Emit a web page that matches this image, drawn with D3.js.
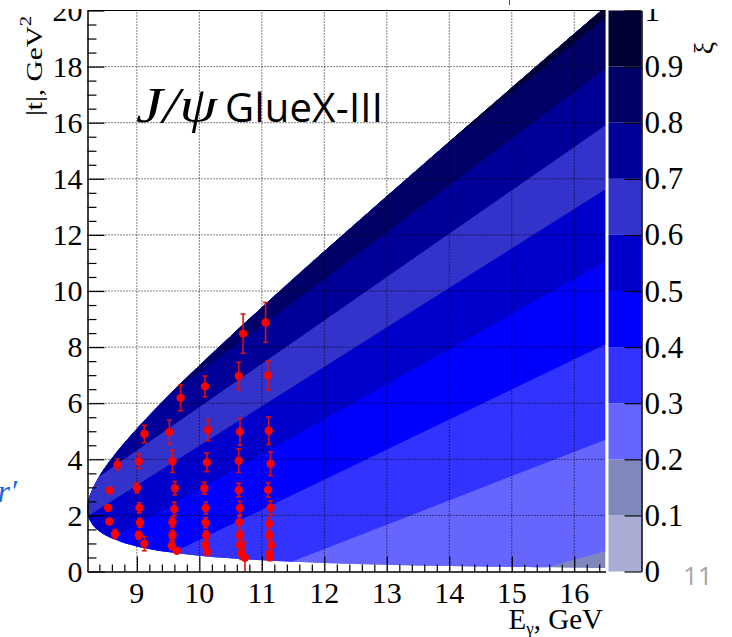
<!DOCTYPE html>
<html>
<head>
<meta charset="utf-8">
<script src="https://cdn.jsdelivr.net/npm/d3@7"></script>
<style>
  html, body { margin: 0; padding: 0; background: #fff; }
  svg { display: block; }
  .lbl { font-family: 'Liberation Serif', 'Times New Roman', serif; fill: #000; }
</style>
</head>
<body>
<svg id="chart" width="732" height="637"></svg>
<script>
// Kinematic limits of J/psi photoproduction: photon energy and |t| range at that energy
const edgeE    = [8.2078, 8.22, 8.25, 8.3, 8.4, 8.5, 8.75, 9, 9.5, 10, 10.5, 11, 12, 13, 14, 15, 16, 16.5];
const edgeTmin = [2.232, 1.976, 1.815, 1.643, 1.431, 1.288, 1.051, 0.895, 0.692, 0.561, 0.469, 0.400, 0.303, 0.239, 0.195, 0.162, 0.137, 0.126];
const edgeTmax = [2.232, 2.513, 2.726, 2.995, 3.400, 3.736, 4.455, 5.091, 6.254, 7.343, 8.391, 9.415, 11.417, 13.381, 15.323, 17.251, 19.169, 20.125];

// Lines of constant xi: |t| at the two ends of the energy range
const xiLevels    = [0.2, 0.3, 0.4, 0.5, 0.6, 0.7, 0.8, 0.9];
const xiLineE     = [8.2, 16.5];
const xiLineStart = [-4.46, -2.49, -0.80, 0.67, 1.95, 3.08, 4.09, 4.99];
const xiLineEnd   = [0.73, 4.70, 8.10, 11.05, 13.63, 15.91, 17.93, 19.74];

// Palette steps (xi) and the colour of each step
const zSteps     = [0, 0.1, 0.2, 0.3, 0.4, 0.5, 0.6, 0.7, 0.8, 0.9, 1.0];
const bandColors = ["#a9add3", "#7f87bd", "#6666ff", "#3333ff", "#0000ff",
                    "#0000cc", "#3333cc", "#000099", "#000066", "#000033"];
const zTickLabels = ["0", "0.1", "0.2", "0.3", "0.4", "0.5", "0.6", "0.7", "0.8", "0.9", "1"];

// GlueX-III projected J/psi points: E_gamma, |t| and the |t| uncertainty
const dataE = [
  8.57, 8.54, 8.56, 8.65, 8.69,
  9.12, 9.03, 9.00, 9.04, 9.05, 9.03, 9.12,
  9.70, 9.52, 9.57, 9.61, 9.60, 9.57, 9.57, 9.56, 9.64,
  10.09, 10.14, 10.12, 10.08, 10.10, 10.10, 10.11, 10.10, 10.13,
  10.70, 10.63, 10.65, 10.63, 10.63, 10.65, 10.64, 10.65, 10.65, 10.68, 10.73,
  11.06, 11.10, 11.11, 11.14, 11.10, 11.14, 11.12, 11.12, 11.15, 11.12, 11.13
];
const dataT = [
  2.89, 2.27, 1.78, 1.34, 3.81,
  4.90, 3.93, 2.98, 2.27, 1.74, 1.29, 0.99,
  6.19, 4.97, 3.93, 2.97, 2.23, 1.76, 1.29, 0.92, 0.74,
  6.60, 5.04, 3.89, 2.97, 2.26, 1.74, 1.29, 0.94, 0.69,
  8.48, 6.97, 4.98, 3.95, 2.90, 2.26, 1.76, 1.29, 0.94, 0.63, 0.49,
  8.88, 6.99, 5.02, 3.84, 2.91, 2.27, 1.70, 1.29, 0.94, 0.63, 0.51
];
const dataErr = [
  0.10, 0.08, 0.07, 0.16, 0.20,
  0.31, 0.26, 0.18, 0.18, 0.16, 0.14, 0.25,
  0.46, 0.43, 0.39, 0.24, 0.24, 0.17, 0.18, 0.15, 0.06,
  0.37, 0.38, 0.33, 0.21, 0.21, 0.18, 0.16, 0.15, 0.08,
  0.70, 0.49, 0.48, 0.42, 0.24, 0.24, 0.21, 0.17, 0.21, 0.20, 0.56,
  0.71, 0.52, 0.49, 0.42, 0.26, 0.25, 0.21, 0.18, 0.18, 0.12, 0.12
];

// Axis ticks
const xMajor = [9, 10, 11, 12, 13, 14, 15, 16];
const yMajor = [0, 2, 4, 6, 8, 10, 12, 14, 16, 18, 20];
const xDomain = [8.21, 16.5];
const yDomain = [0, 20];

const sans = "'Open Sans', 'Liberation Sans', sans-serif";

const svg = d3.select("#chart");
const defs = svg.append("defs");

const x = d3.scaleLinear().domain(xDomain).range([87.5, 605.5]);
const y = d3.scaleLinear().domain(yDomain).range([571.5, 10.5]);
const z = d3.scaleLinear().domain([zSteps[0], zSteps[zSteps.length - 1]]).range([571.5, 10.5]);

// minor ticks derived from the major tick spacing
const xMinor = d3.range(8.4, 16.5001, 0.2).filter(v => Math.abs(v - Math.round(v)) > 1e-6);
const yMinor = d3.range(0.5, 20, 0.5).filter(v => Math.abs(v / 2 - Math.round(v / 2)) > 1e-6);

// everything of the figure lies below its top edge
defs.append("clipPath").attr("id", "figClip")
  .append("rect").attr("x", 0).attr("y", 9).attr("width", 732).attr("height", 628);

defs.append("clipPath").attr("id", "plotClip")
  .append("rect")
  .attr("x", x.range()[0]).attr("y", y.range()[1])
  .attr("width", x.range()[1] - x.range()[0])
  .attr("height", y.range()[0] - y.range()[1]);

// closed outline of the allowed region: upper limit back to threshold, then lower limit
const outline = [];
for (let i = edgeE.length - 1; i >= 1; i--) outline.push([edgeE[i], edgeTmax[i]]);
outline.push([edgeE[0], edgeTmax[0]]);
for (let i = 1; i < edgeE.length; i++) outline.push([edgeE[i], edgeTmin[i]]);

const outlineLine = d3.line()
  .x(d => x(d[0])).y(d => y(d[1]))
  .curve(d3.curveCatmullRom.alpha(0.5));

defs.append("clipPath").attr("id", "regionClip")
  .append("path").attr("d", outlineLine(outline) + "Z");

const fig = svg.append("g").attr("clip-path", "url(#figClip)");
const plotG = fig.append("g").attr("clip-path", "url(#plotClip)");
const region = plotG.append("g").attr("clip-path", "url(#regionClip)");

// lowest step present in the region fills it first
region.append("rect")
  .attr("x", x.range()[0] - 20).attr("y", y.range()[1])
  .attr("width", x.range()[1] - x.range()[0] + 40)
  .attr("height", y.range()[0] - y.range()[1] + 10)
  .attr("fill", bandColors[1]);

// each higher xi step paints everything above its line
const polyLine = d3.line().x(d => x(d[0])).y(d => y(d[1]));
const yOver = yDomain[1] * 1.5;
xiLevels.forEach((lev, i) => {
  const stepIndex = zSteps.findIndex(s => Math.abs(s - lev) < 1e-9);
  const pts = [
    [xiLineE[0], xiLineStart[i]],
    [xiLineE[1], xiLineEnd[i]],
    [xiLineE[1], yOver],
    [xiLineE[0], yOver]
  ];
  region.append("path")
    .attr("d", polyLine(pts) + "Z")
    .attr("fill", bandColors[stepIndex]);
});

// dotted grid
const grid = plotG.append("g")
  .attr("stroke", "#000").attr("stroke-width", 1)
  .attr("stroke-dasharray", "1,2").attr("fill", "none");
xMajor.forEach(v => {
  grid.append("line").attr("x1", x(v)).attr("x2", x(v))
    .attr("y1", y.range()[0]).attr("y2", y.range()[1]);
});
yMajor.filter(v => v > yDomain[0] && v < yDomain[1]).forEach(v => {
  grid.append("line").attr("y1", y(v)).attr("y2", y(v))
    .attr("x1", x.range()[0]).attr("x2", x.range()[1]);
});

// data points with vertical error bars
const pts = dataE.map((e, i) => ({ e, t: dataT[i], err: dataErr[i] }));
const markG = plotG.append("g");
const cap = 2.5;
pts.forEach(p => {
  const g = markG.append("g").attr("stroke", "#dc1010").attr("stroke-width", 1.6);
  g.append("line").attr("x1", x(p.e)).attr("x2", x(p.e))
    .attr("y1", y(p.t - p.err)).attr("y2", y(p.t + p.err));
  g.append("line").attr("x1", x(p.e) - cap).attr("x2", x(p.e) + cap)
    .attr("y1", y(p.t - p.err)).attr("y2", y(p.t - p.err));
  g.append("line").attr("x1", x(p.e) - cap).attr("x2", x(p.e) + cap)
    .attr("y1", y(p.t + p.err)).attr("y2", y(p.t + p.err));
});
markG.selectAll("circle.pt").data(pts).join("circle")
  .attr("class", "pt")
  .attr("cx", d => x(d.e)).attr("cy", d => y(d.t))
  .attr("r", 4.2).attr("fill", "#ff0000");

// frame top
fig.append("line")
  .attr("x1", x.range()[0]).attr("x2", x.range()[1])
  .attr("y1", y.range()[1]).attr("y2", y.range()[1])
  .attr("stroke", "#000").attr("stroke-width", 1.2);

// axis lines and ticks (labels are set separately below)
function styleAxis(g) {
  g.select(".domain").attr("stroke", "#000").attr("stroke-width", 1.5);
  g.selectAll(".tick line").attr("stroke", "#000").attr("stroke-width", 1.2);
  g.selectAll(".tick text").remove();
}

const xAxisG = fig.append("g").attr("transform", `translate(0,${y.range()[0]})`);
xAxisG.call(d3.axisBottom(x).tickValues(xMajor).tickSizeInner(-15).tickSizeOuter(0).tickFormat(""));
xAxisG.append("g").call(d3.axisBottom(x).tickValues(xMinor).tickSizeInner(-7)
  .tickSizeOuter(0).tickFormat(""))
  .call(g => g.select(".domain").remove());
styleAxis(xAxisG);

const yAxisG = fig.append("g").attr("transform", `translate(${x.range()[0]},0)`);
yAxisG.call(d3.axisLeft(y).tickValues(yMajor).tickSizeInner(-17).tickSizeOuter(0).tickFormat(""));
yAxisG.append("g").call(d3.axisLeft(y).tickValues(yMinor).tickSizeInner(-9)
  .tickSizeOuter(0).tickFormat(""))
  .call(g => g.select(".domain").remove());
styleAxis(yAxisG);

// colour bar
const cbLeft = 608.5, cbRight = 641.5;
const cb = fig.append("g");
bandColors.forEach((c, i) => {
  cb.append("rect")
    .attr("x", cbLeft).attr("width", cbRight - cbLeft)
    .attr("y", z(zSteps[i + 1])).attr("height", z(zSteps[i]) - z(zSteps[i + 1]))
    .attr("fill", c);
});
const zAxisG = fig.append("g").attr("transform", `translate(${cbRight},0)`);
zAxisG.call(d3.axisRight(z).tickValues(zSteps).tickSizeInner(-17).tickSizeOuter(0).tickFormat(""));
styleAxis(zAxisG);

// tick labels
fig.append("g").selectAll("text").data(xMajor).join("text")
  .attr("class", "lbl")
  .attr("x", d => x(d)).attr("y", 603)
  .attr("text-anchor", "middle")
  .style("font-size", "30px")
  .text(d => d3.format("d")(d));

fig.append("g").selectAll("text").data(yMajor).join("text")
  .attr("class", "lbl")
  .attr("x", x.range()[0] - 5).attr("y", d => y(d)).attr("dy", "0.34em")
  .attr("text-anchor", "end")
  .style("font-size", "30px")
  .text(d => d3.format("d")(d));

fig.append("g").selectAll("text").data(zSteps).join("text")
  .attr("class", "lbl")
  .attr("x", cbRight + 3).attr("y", d => z(d)).attr("dy", "0.34em")
  .attr("text-anchor", "start")
  .style("font-size", "31px")
  .text((d, i) => zTickLabels[i]);

// axis titles
const yTitle = fig.append("text")
  .attr("class", "lbl")
  .attr("transform", `translate(42,116) rotate(-90) scale(1.22,1)`)
  .style("font-size", "24px");
yTitle.append("tspan").text("|t|, GeV");
yTitle.append("tspan").style("font-size", "17px").attr("dy", -11).text("2");

const xTitle = fig.append("text")
  .attr("class", "lbl")
  .attr("x", 603).attr("y", 629).attr("text-anchor", "end")
  .style("font-size", "29px");
xTitle.append("tspan").text("E");
xTitle.append("tspan").style("font-size", "17px").attr("dy", 5).text("γ");
xTitle.append("tspan").attr("dy", -5).text(", GeV");

fig.append("text")
  .attr("class", "lbl")
  .attr("transform", "translate(713,48) rotate(-90)")
  .attr("text-anchor", "middle")
  .style("font-size", "28px")
  .text("ξ");

// in-plot label
fig.append("text")
  .attr("class", "lbl")
  .attr("x", 136).attr("y", 122)
  .attr("textLength", 81).attr("lengthAdjust", "spacingAndGlyphs")
  .style("font-style", "italic").style("font-size", "50px")
  .text("J/ψ");
fig.append("text")
  .attr("x", 225).attr("y", 122)
  .attr("textLength", 158).attr("lengthAdjust", "spacing")
  .style("font-family", sans).style("font-size", "40px").attr("fill", "#000")
  .text("GlueX-III");

// slide furniture around the figure
svg.append("text")
  .attr("class", "lbl")
  .attr("x", 17).attr("y", 502).attr("text-anchor", "end")
  .style("font-style", "italic")
  .style("font-size", "32px").style("fill", "#1c64e8")
  .text("r′");
svg.append("text")
  .attr("x", 683).attr("y", 585)
  .style("font-family", sans).style("font-size", "26px").attr("fill", "#a6a6a6")
  .text("11");
svg.append("line")
  .attr("x1", 509.5).attr("x2", 509.5).attr("y1", 0).attr("y2", 5)
  .attr("stroke", "#555").attr("stroke-width", 1);
</script>
</body>
</html>
